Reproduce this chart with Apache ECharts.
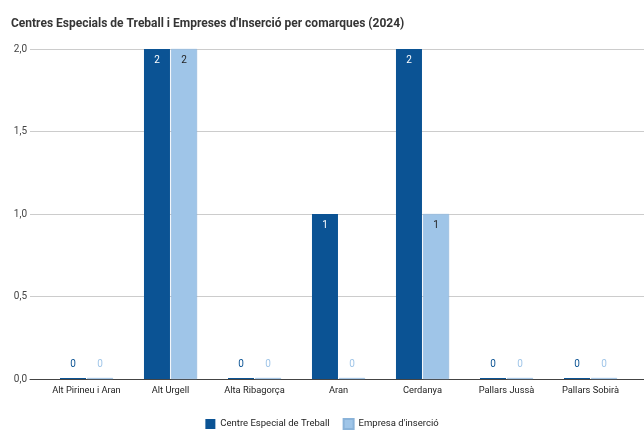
<!DOCTYPE html>
<html>
<head>
<meta charset="utf-8">
<script src="https://cdn.jsdelivr.net/npm/echarts@6/dist/echarts.min.js"></script>
<style>
html,body{margin:0;padding:0;background:#fff;}
#chart{width:644px;height:430px;}
</style>
</head>
<body>
<div id="chart"></div>
<script>
const title = "Centres Especials de Treball i Empreses d'Inserció per comarques (2024)";
const categories = ["Alt Pirineu i Aran", "Alt Urgell", "Alta Ribagorça", "Aran", "Cerdanya", "Pallars Jussà", "Pallars Sobirà"];
const centreEspecial = [0, 2, 0, 1, 2, 0, 0];
const empresaInsercio = [0, 2, 0, 0, 1, 0, 0];
const yTicks = [0, 0.5, 1, 1.5, 2];

const DARK = '#0b5394';
const LIGHT = '#9fc5e8';
const FONT = 'Roboto, "Noto Sans", sans-serif';

function buildData(values, color, insideColor) {
  return values.map(v => {
    if (v === 0) {
      return { value: v, label: { position: 'top', distance: 9, color: color } };
    }
    return { value: v, label: { position: 'insideTop', distance: 6, color: insideColor } };
  });
}

const chart = echarts.init(document.getElementById('chart'), null, { renderer: 'canvas' });
chart.setOption({
  animation: false,
  backgroundColor: '#ffffff',
  textStyle: { fontFamily: FONT },
  title: {
    text: title,
    left: 6, top: 13,
    textStyle: { fontFamily: FONT, fontSize: 12, fontWeight: 'bold', color: '#353535' }
  },
  legend: {
    left: 'center',
    top: 418,
    itemWidth: 10, itemHeight: 10,
    itemGap: 13,
    icon: 'rect',
    padding: 0,
    textStyle: { fontFamily: FONT, fontSize: 9.5, color: '#222' },
    data: ['Centre Especial de Treball', "Empresa d'inserció"]
  },
  grid: [
    { left: 30, right: 0, top: 49, bottom: 51 },
    { left: 44.5, right: 11.5, top: 49, bottom: 51 }
  ],
  xAxis: [
    {
      gridIndex: 0, type: 'category', data: [''],
      axisTick: { show: false }, axisLabel: { show: false },
      axisLine: { show: true, lineStyle: { color: '#444', width: 1 } }
    },
    {
      gridIndex: 1, type: 'category', data: categories,
      axisTick: { show: false },
      axisLine: { show: false },
      axisLabel: { fontFamily: FONT, fontSize: 9.3, color: '#222', margin: 7, interval: 0 }
    }
  ],
  yAxis: [
    {
      gridIndex: 0, type: 'value', min: yTicks[0], max: yTicks[yTicks.length - 1], interval: 0.5,
      axisLine: { show: false }, axisTick: { show: false },
      axisLabel: {
        fontFamily: FONT, fontSize: 10, color: '#444', margin: 3,
        formatter: v => v.toFixed(1).replace('.', ',')
      },
      splitLine: { lineStyle: { color: '#cccccc', width: 1 } }
    },
    {
      gridIndex: 1, type: 'value', min: yTicks[0], max: yTicks[yTicks.length - 1], interval: 0.5,
      show: false, splitLine: { show: false }
    }
  ],
  series: [
    {
      name: 'Centre Especial de Treball',
      type: 'bar', xAxisIndex: 1, yAxisIndex: 1,
      barWidth: 26, barGap: '4%',
      barMinHeight: 1,
      itemStyle: { color: DARK },
      label: { show: true, fontFamily: FONT, fontSize: 10 },
      data: buildData(centreEspecial, DARK, '#ffffff')
    },
    {
      name: "Empresa d'inserció",
      type: 'bar', xAxisIndex: 1, yAxisIndex: 1,
      barWidth: 26, barGap: '4%',
      barMinHeight: 1,
      itemStyle: { color: LIGHT, borderColor: '#8ab3d9', borderWidth: 0.5 },
      label: { show: true, fontFamily: FONT, fontSize: 10 },
      data: buildData(empresaInsercio, LIGHT, '#222222')
    }
  ]
});
</script>
</body>
</html>
